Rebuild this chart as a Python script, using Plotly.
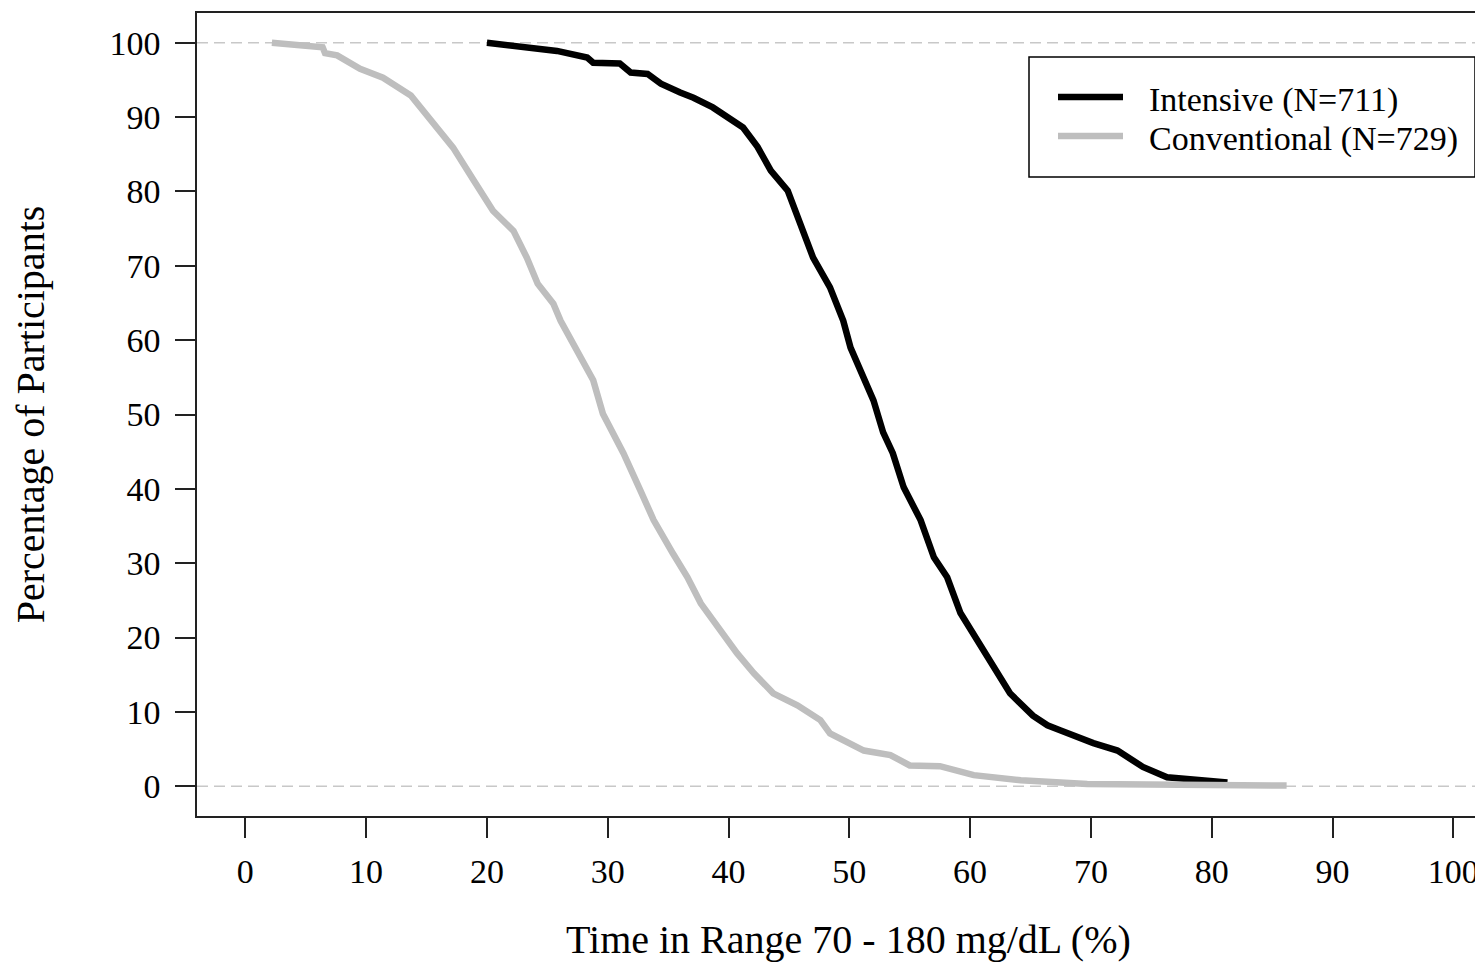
import plotly.graph_objects as go

# ---- data ----
conv_x = [2.2, 5.0, 6.4, 6.6, 7.6, 9.5, 11.4, 13.7, 15.3, 17.2, 18.9, 20.5, 22.2, 23.3, 24.2,
          25.5, 26.1, 27.0, 28.8, 29.6, 31.3, 32.7, 33.8, 35.4, 36.6, 37.7, 39.3, 40.7,
          42.1, 43.7, 45.7, 46.8, 47.6, 48.4, 51.2, 53.4, 55.0, 57.5, 60.3, 64.2, 69.7, 86.2]
conv_y = [100, 99.6, 99.4, 98.6, 98.3, 96.5, 95.3, 92.9, 89.8, 85.9, 81.5, 77.4, 74.7, 71.1, 67.6,
          64.9, 62.6, 60.0, 54.6, 50.1, 44.8, 39.8, 35.8, 31.3, 28.1, 24.6, 21.0, 17.9,
          15.2, 12.5, 10.9, 9.8, 8.9, 7.1, 4.8, 4.2, 2.8, 2.7, 1.5, 0.8, 0.3, 0.1]

int_x = [20.0, 24.4, 25.8, 28.3, 28.8, 31.0, 31.9, 33.3, 34.4, 36.0, 37.1, 38.7, 40.4, 41.2,
         42.4, 43.5, 44.9, 45.9, 47.0, 48.4, 49.5, 50.1, 51.2, 52.0, 52.8, 53.6, 54.5, 55.9,
         57.0, 58.1, 59.2, 60.6, 61.9, 63.3, 65.2, 66.4, 67.5, 70.2, 72.2, 73.5, 74.3, 76.3,
         79.1, 81.3]
int_y = [100, 99.3, 98.9, 98.0, 97.3, 97.2, 96.0, 95.8, 94.5, 93.3, 92.6, 91.3, 89.5, 88.6,
         86.0, 82.8, 80.1, 75.7, 71.1, 67.1, 62.6, 59.0, 54.6, 51.9, 47.6, 44.8, 40.2, 35.8,
         30.8, 28.1, 23.3, 19.6, 16.5, 12.5, 9.5, 8.2, 7.5, 5.8, 4.8, 3.5, 2.6, 1.2,
         0.8, 0.5]

series_names = ["Intensive (N=711)", "Conventional (N=729)"]
series_colors = ["#000000", "#BEBEBE"]
x_ticks = [0, 10, 20, 30, 40, 50, 60, 70, 80, 90, 100]
y_ticks = [0, 10, 20, 30, 40, 50, 60, 70, 80, 90, 100]
ref_lines = [0, 100]
x_title = "Time in Range 70 - 180 mg/dL (%)"
y_title = "Percentage of Participants"

# ---- layout geometry (page body has an 8px margin) ----
OFF = 8
W, H = 1483 - OFF, 962 - OFF
ML, MR, MT, MB = 197 - OFF, 0, 13 - OFF, 146
PW, PH = W - ML - MR, H - MT - MB
FONT = "Liberation Serif, Times New Roman, serif"


def px_x(p):
    return (p - OFF - ML) / PW


def px_y(p):
    return (MT + PH - (p - OFF)) / PH


fig = go.Figure()
fig.add_trace(go.Scatter(x=int_x, y=int_y, mode="lines", name=series_names[0],
                         line=dict(color=series_colors[0], width=6.5), showlegend=False))
fig.add_trace(go.Scatter(x=conv_x, y=conv_y, mode="lines", name=series_names[1],
                         line=dict(color=series_colors[1], width=6.5), showlegend=False))

shapes = []
for r in ref_lines:
    shapes.append(dict(type="line", xref="paper", yref="y", x0=0, x1=1, y0=r, y1=r,
                       line=dict(color="#C8C8C8", width=1.5, dash="11px,6px"), layer="below"))

# legend box (manual, to match the reference geometry)
shapes.append(dict(type="rect", xref="paper", yref="paper",
                   x0=px_x(1029), x1=px_x(1475), y0=px_y(177), y1=px_y(57),
                   line=dict(color="#000000", width=1.5), fillcolor="white", layer="above"))
annotations = []
for i, (name, col) in enumerate(zip(series_names, series_colors)):
    yy = 97 + i * 39
    shapes.append(dict(type="line", xref="paper", yref="paper",
                       x0=px_x(1058), x1=px_x(1123), y0=px_y(yy), y1=px_y(yy),
                       line=dict(color=col, width=6.5), layer="above"))
    annotations.append(dict(text=name, xref="paper", yref="paper", x=px_x(1147), y=px_y(yy + 3),
                            xanchor="left", yanchor="middle", showarrow=False,
                            font=dict(family=FONT, size=34, color="#000000")))

# x-axis title, centred on the full (partly off-screen) plot box
annotations.append(dict(text=x_title, xref="paper", yref="paper", x=px_x(848), y=px_y(939),
                        xanchor="center", yanchor="middle", showarrow=False,
                        font=dict(family=FONT, size=40, color="#000000")))

fig.update_layout(
    width=W, height=H,
    margin=dict(l=ML, r=MR, t=MT, b=MB, pad=0),
    paper_bgcolor="white", plot_bgcolor="white",
    font=dict(family=FONT, color="#000000"),
    shapes=shapes, annotations=annotations,
    showlegend=False,
)
fig.update_xaxes(
    range=[-4, -4 + PW / 12.08], tickmode="array", tickvals=x_ticks,
    ticktext=[str(v) for v in x_ticks],
    ticks="outside", ticklen=20, tickwidth=1.5, tickcolor="#222",
    showline=True, linecolor="#222", linewidth=1.5, mirror=True,
    showgrid=False, zeroline=False,
    tickfont=dict(family=FONT, size=34, color="#000"), ticklabelstandoff=4,
)
fig.update_yaxes(
    range=[-4, 104], tickmode="array", tickvals=y_ticks,
    ticktext=[str(v) for v in y_ticks],
    ticks="outside", ticklen=20, tickwidth=1.5, tickcolor="#222",
    showline=True, linecolor="#222", linewidth=1.5, mirror=False,
    showgrid=False, zeroline=False,
    tickfont=dict(family=FONT, size=34, color="#000"), ticklabelstandoff=8,
    title=dict(text=y_title, font=dict(family=FONT, size=40, color="#000"), standoff=52),
)

fig.write_html("out.html")
